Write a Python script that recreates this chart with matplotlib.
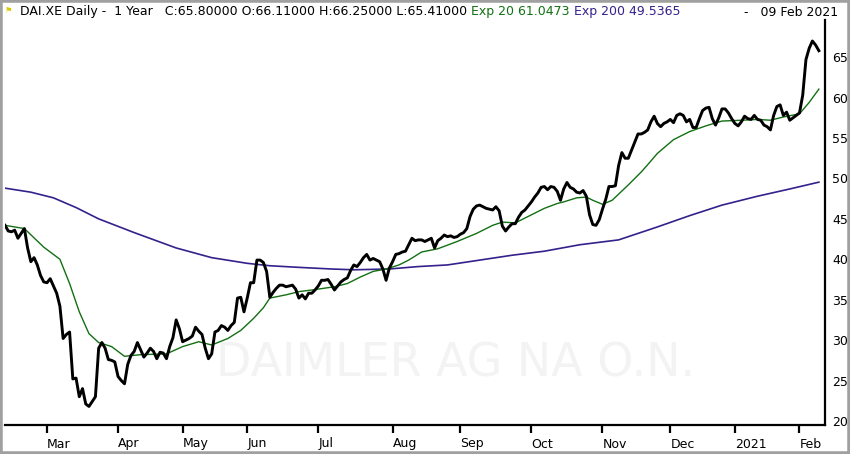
import numpy as np
import pandas as pd
import matplotlib
matplotlib.use("Agg")
import matplotlib.pyplot as plt
from matplotlib.patches import Rectangle

# trading calendar (Xetra closed days inside the window)
first_day = "2020-02-12"
last_day = "2021-02-09"
holidays = ["2020-04-10", "2020-04-13", "2020-05-01",
            "2020-12-24", "2020-12-25", "2020-12-31", "2021-01-01"]

# daily close, one value per trading day
close = [
  44.2, 43.5, 43.4, 43.6, 42.6, 43.2, 43.8, 41.4, 39.7, 40.2,
  39.3, 38.0, 37.2, 37.1, 37.6, 36.7, 35.8, 34.2, 30.2, 30.7,
  31.0, 25.2, 25.3, 23.0, 24.0, 22.1, 21.8, 22.4, 23.0, 29.0,
  29.7, 29.0, 27.6, 27.5, 27.3, 25.5, 25.0, 24.6, 27.0, 28.1,
  28.6, 29.7, 28.8, 27.9, 28.4, 29.0, 28.6, 27.7, 28.5, 28.4,
  27.7, 29.2, 30.3, 32.5, 31.4, 29.8, 30.0, 30.2, 30.5, 31.6,
  31.1, 30.7, 29.0, 27.7, 28.3, 31.0, 31.2, 31.8, 31.6, 31.2,
  31.8, 32.2, 35.2, 35.3, 33.5, 35.2, 37.1, 37.1, 39.9, 39.9,
  39.6, 38.5, 35.3, 35.9, 36.4, 36.8, 36.8, 36.6, 36.7, 36.8,
  36.3, 35.2, 35.6, 35.1, 35.8, 35.8, 36.2, 36.7, 37.4, 37.4,
  37.5, 36.9, 36.2, 36.7, 37.2, 37.5, 37.7, 38.6, 39.3, 39.1,
  39.6, 40.2, 40.6, 39.9, 40.1, 39.9, 39.7, 38.8, 37.4, 38.9,
  39.7, 40.6, 40.7, 40.9, 41.0, 41.8, 42.6, 42.3, 42.4, 42.4,
  42.2, 42.4, 42.6, 41.4, 42.3, 42.6, 43.0, 42.8, 42.9, 42.7,
  42.8, 43.1, 43.3, 43.8, 45.3, 46.2, 46.6, 46.7, 46.5, 46.3,
  46.2, 46.1, 46.5, 46.0, 44.1, 43.5, 44.0, 44.4, 44.4, 45.2,
  45.8, 46.1, 46.6, 47.1, 47.7, 48.2, 48.9, 49.0, 48.6, 49.0,
  48.9, 48.4, 47.3, 48.7, 49.5, 48.9, 48.7, 48.3, 48.2, 48.5,
  47.8, 45.5, 44.3, 44.2, 44.9, 46.2, 47.4, 49.0, 49.0, 49.1,
  51.6, 53.2, 52.5, 52.5, 53.5, 54.5, 55.5, 55.5, 55.7, 56.0,
  57.0, 57.7, 56.8, 56.4, 56.8, 57.0, 57.3, 56.9, 57.8, 58.0,
  57.8, 57.0, 57.3, 56.3, 56.3, 57.4, 58.4, 58.7, 58.8, 57.4,
  56.6, 57.5, 58.6, 58.6, 58.1, 57.4, 56.8, 56.5, 57.0, 57.7,
  57.4, 57.3, 57.8, 57.3, 57.2, 56.6, 56.4, 56.0, 57.8, 58.9,
  59.1, 57.8, 58.2, 57.2, 57.5, 57.8, 58.1, 60.3, 64.7, 66.1,
  67.0, 66.5, 65.8]

# exponential averages (trading-day number, value)
ema20_day = [0, 6, 12, 17, 20, 23, 26, 29, 33, 37, 42, 50, 55, 60, 64, 69,
             73, 77, 80, 82, 87, 91, 95, 102, 106, 110, 114, 118, 122, 125,
             129, 134, 140, 146, 151, 154, 158, 162, 167, 171, 173, 177, 180,
             182, 185, 188, 193, 197, 199, 202, 207, 212, 217, 222, 228, 233,
             237, 241, 246, 249, 252]
ema20 = [44.2, 43.8, 41.5, 40.0, 37.0, 33.5, 30.8, 29.7, 29.2, 28.0, 28.2,
         28.3, 29.2, 29.8, 29.4, 30.2, 31.2, 32.7, 34.0, 35.2, 35.6, 36.0,
         36.2, 36.6, 37.0, 37.8, 38.5, 38.8, 39.3, 39.9, 40.9, 41.3, 42.2,
         43.2, 44.2, 44.6, 44.5, 45.3, 46.3, 46.9, 47.1, 47.6, 47.7, 47.3,
         46.8, 47.3, 49.2, 50.8, 51.7, 53.1, 54.8, 55.8, 56.5, 57.1, 57.2,
         57.3, 57.2, 57.6, 58.0, 59.4, 61.05]
ema200_day = [0, 8, 15, 22, 29, 40, 53, 64, 75, 82, 91, 101, 108, 119, 128,
              137, 147, 157, 167, 178, 190, 202, 212, 222, 233, 243, 252]
ema200 = [48.8, 48.3, 47.6, 46.4, 45.0, 43.3, 41.4, 40.2, 39.5, 39.2, 39.0,
          38.8, 38.7, 38.8, 39.1, 39.3, 39.9, 40.5, 41.0, 41.8, 42.4, 44.0,
          45.4, 46.7, 47.8, 48.7, 49.54]

y_ticks = [20, 25, 30, 35, 40, 45, 50, 55, 60, 65]

header = [("DAI.XE Daily -  1 Year   C:65.80000 O:66.11000 H:66.25000 L:65.41000 ", "black"),
          ("Exp 20 61.0473 ", "#127012"),
          ("Exp 200 49.5365", "#35208c")]
header_date = "-   09 Feb 2021"
watermark = "DAIMLER AG NA O.N."

W, H = 850, 454
days = pd.bdate_range(first_day, last_day)
days = days[~days.isin(pd.to_datetime(holidays))]
n = len(close)

fig = plt.figure(figsize=(W / 100, H / 100), dpi=100)
ax = fig.add_axes([5 / W, 29 / H, 820 / W, 405 / H])

ax.text(0.55, 0.15, watermark, transform=ax.transAxes, ha="center", va="center",
        fontsize=33, color="#f3f3f3", zorder=0)

ax.plot(ema200_day, ema200, color="#35208c", lw=1.2, zorder=2)
ax.plot(ema20_day, ema20, color="#127012", lw=1.0, zorder=3)
ax.plot(np.arange(n), close, color="black", lw=2.1, zorder=4)

ax.set_xlim(0, 253.9)
ax.set_ylim(19.5, 69.6)

# month ticks at the first session of each month
tick_pos, tick_lab = [], []
for i in range(1, min(len(days), n)):
    if days[i].month != days[i - 1].month:
        tick_pos.append(i)
        tick_lab.append("2021" if days[i].month == 1 else days[i].strftime("%b"))
ax.set_xticks(tick_pos)
ax.set_xticklabels(tick_lab, ha="left", fontsize=9)
ax.tick_params(axis="x", direction="out", length=6, width=1.6, pad=3)

ax.set_yticks(y_ticks)
ax.yaxis.tick_right()
ax.tick_params(axis="y", length=0, pad=5, labelsize=9)

for side in ["left", "top"]:
    ax.spines[side].set_visible(False)
for side in ["bottom", "right"]:
    ax.spines[side].set_linewidth(1.6)

# header line with coloured pieces
fig.canvas.draw()
rend = fig.canvas.get_renderer()
x = 20
for s, c in header:
    t = fig.text(x / W, 1 - 12 / H, s, color=c, fontsize=9, va="center", ha="left")
    x += t.get_window_extent(rend).width
fig.text(838 / W, 1 - 12 / H, header_date, fontsize=9, va="center", ha="right")
fig.text(5 / W, 1 - 11 / H, "\u2691", fontsize=6, color="#d8c800", va="center")

fig.patches.append(Rectangle((0, 0), 1, 1, transform=fig.transFigure, fill=False,
                             edgecolor="#a0a0a0", lw=4))

fig.savefig("out.png", dpi=100)
